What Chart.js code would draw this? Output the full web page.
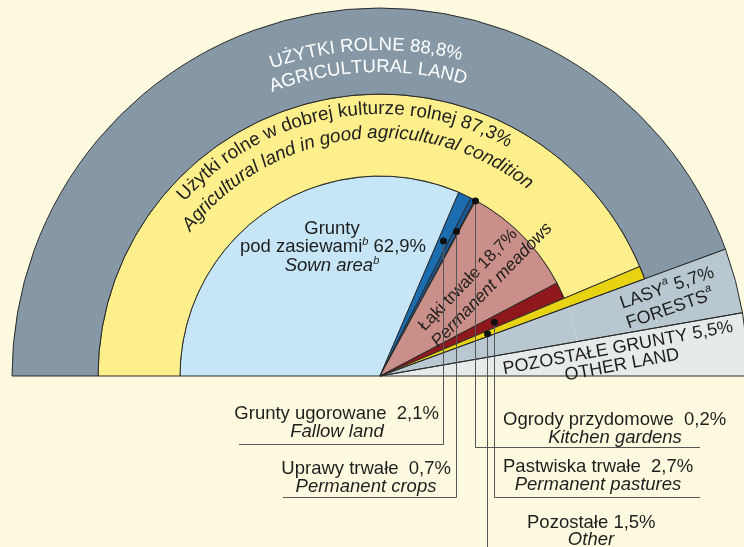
<!DOCTYPE html>
<html>
<head>
<meta charset="utf-8">
<script src="https://cdn.jsdelivr.net/npm/chart.js@4.4.1/dist/chart.umd.min.js"></script>
<style>
  html, body { margin: 0; padding: 0; background: #FEFAE0; }
  canvas { display: block; }
</style>
</head>
<body>
<canvas id="myChart" width="744" height="547"></canvas>
<script>
// udział w powierzchni ogólnej, %
const landLabels = ['Użytki rolne', 'Lasy', 'Pozostałe grunty'];
const landValues = [88.8, 5.7, 5.5];

const agriLabels = ['Użytki rolne w dobrej kulturze rolnej', 'Pozostałe'];
const agriValues = [87.3, 1.5];

const cropLabels = ['Grunty pod zasiewami', 'Grunty ugorowane', 'Uprawy trwałe',
                    'Ogrody przydomowe', 'Łąki trwałe', 'Pastwiska trwałe'];
const cropValues = [62.9, 2.1, 0.7, 0.2, 18.7, 2.7];

const SLATE = '#8697A6', FOREST = '#B9C8D0', OTHERLAND = '#E6EAEA';
const YELLOW = '#FCEF8C', STRIP = '#E8D312', BORDER = '#2b2b2b';
const cropColors = ['#C6E6F7', '#1C6DB0', '#165A99', '#222222', '#C98F88', '#8E181C'];

const FAM = '"Liberation Sans", Arial, sans-serif';
const TXT = '#1e1e1e';

const ctx = document.getElementById('myChart').getContext('2d');

function arcText(ctx, text, cx, cy, r, midDeg, font, color) {
    ctx.font = font;
    ctx.fillStyle = color;
    ctx.textAlign = 'center';
    ctx.textBaseline = 'alphabetic';
    const w = ctx.measureText(text).width;
    let a = midDeg * Math.PI / 180 + w / (2 * r);
    for (const ch of text) {
        const cw = ctx.measureText(ch).width;
        const t = a - cw / (2 * r);
        ctx.save();
        ctx.translate(cx + r * Math.cos(t), cy - r * Math.sin(t));
        ctx.rotate(Math.PI / 2 - t);
        ctx.fillText(ch, 0, 0);
        ctx.restore();
        a -= cw / r;
    }
}

// parts: [['tekst'], ['a', true]] - drugi element = indeks górny
function drawParts(ctx, parts, x, y, align, italic, size) {
    const f = (italic ? 'italic ' : '') + (size || 18.5) + 'px ' + FAM;
    const sf = 'italic 11px ' + FAM;
    let w = 0;
    parts.forEach(p => { ctx.font = p[1] ? sf : f; w += ctx.measureText(p[0]).width; });
    let x0 = align === 'center' ? x - w / 2 : align === 'right' ? x - w : x;
    ctx.textAlign = 'left';
    parts.forEach(p => {
        ctx.font = p[1] ? sf : f;
        ctx.fillText(p[0], x0, p[1] ? y - 7 : y);
        x0 += ctx.measureText(p[0]).width;
    });
}

function rotated(ctx, x, y, deg, fn) {
    ctx.save();
    ctx.translate(x, y);
    ctx.rotate(-deg * Math.PI / 180);
    fn();
    ctx.restore();
}

function wedge(ctx, el, r) {
    ctx.beginPath();
    ctx.moveTo(el.x, el.y);
    ctx.arc(el.x, el.y, r, el.startAngle, el.endAngle);
    ctx.closePath();
    ctx.stroke();
}

function pointOn(el, r) {
    const a = (el.startAngle + el.endAngle) / 2;
    return [el.x + r * Math.cos(a), el.y + r * Math.sin(a)];
}

const overlay = {
    id: 'overlay',
    afterDatasetsDraw(chart) {
        const c = chart.ctx;
        const outer = chart.getDatasetMeta(0).data;
        const middle = chart.getDatasetMeta(1).data;
        const inner = chart.getDatasetMeta(2).data;
        const cx = outer[0].x, cy = outer[0].y;

        c.save();
        c.strokeStyle = BORDER;
        c.lineWidth = 1;
        wedge(c, middle[1], middle[1].outerRadius);
        wedge(c, outer[1], outer[1].outerRadius);
        wedge(c, outer[2], outer[2].outerRadius);

        // napisy na łukach
        arcText(c, 'UŻYTKI ROLNE 88,8%', cx, cy, 326, 92.5, '18.5px ' + FAM, '#ffffff');
        arcText(c, 'AGRICULTURAL LAND', cx, cy, 304, 92.4, '18.5px ' + FAM, '#ffffff');
        arcText(c, 'Użytki rolne w dobrej kulturze rolnej 87,3%', cx, cy, 262, 99.5, '18.8px ' + FAM, TXT);
        arcText(c, 'Agricultural land in good agricultural condition', cx, cy, 238, 97.2, 'italic 18.8px ' + FAM, TXT);

        c.fillStyle = TXT;
        c.textBaseline = 'alphabetic';
        drawParts(c, [['Grunty']], 332, 234, 'center');
        drawParts(c, [['pod zasiewami'], ['b', true], [' 62,9%']], 333, 252, 'center');
        drawParts(c, [['Sown area', false], ['b', true]], 332, 271, 'center', true);

        c.textBaseline = 'middle';
        rotated(c, 468, 280, 46, () => drawParts(c, [['Łąki trwałe 18,7%']], 0, 0, 'center', false, 17));
        rotated(c, 492, 285, 46, () => drawParts(c, [['Permanent meadows']], 0, 0, 'center', true, 17.5));
        rotated(c, 667, 288, 19, () => drawParts(c, [['LASY'], ['a', true], [' 5,7%']], 0, 0, 'center', false, 18));
        rotated(c, 670, 309, 19, () => drawParts(c, [['FORESTS'], ['a', true]], 0, 0, 'center', false, 18));
        rotated(c, 618, 348, 10.5, () => drawParts(c, [['POZOSTAŁE GRUNTY 5,5%']], 0, 0, 'center', false, 18));
        rotated(c, 622, 365, 10.5, () => drawParts(c, [['OTHER LAND']], 0, 0, 'center', false, 18));

        // linie odniesienia
        const leaders = [
            [inner[1], 149, 444, 239],
            [inner[2], 163, 497, 283],
            [inner[3], 199, 447, 700],
            [inner[5], 126, 497, 700],
            [middle[1], 115, 547, null]
        ];
        c.strokeStyle = '#555555';
        c.lineWidth = 1;
        leaders.forEach(([el, r, yEnd, xEnd]) => {
            const [px, py] = pointOn(el, r);
            const x = Math.round(px) + 0.5;
            c.beginPath();
            c.moveTo(x, py);
            c.lineTo(x, yEnd + 0.5);
            if (xEnd !== null) c.lineTo(xEnd, yEnd + 0.5);
            c.stroke();
        });
        c.fillStyle = '#111111';
        leaders.forEach(([el, r]) => {
            const [px, py] = pointOn(el, r);
            c.beginPath();
            c.arc(Math.round(px) + 0.5, py, 3.5, 0, Math.PI * 2);
            c.fill();
        });

        c.fillStyle = TXT;
        c.textBaseline = 'alphabetic';
        drawParts(c, [['Grunty ugorowane  2,1%']], 439, 419, 'right');
        drawParts(c, [['Fallow land']], 337, 437, 'center', true);
        drawParts(c, [['Uprawy trwałe  0,7%']], 451, 474, 'right');
        drawParts(c, [['Permanent crops']], 366, 492, 'center', true);
        drawParts(c, [['Ogrody przydomowe  0,2%']], 503, 425, 'left');
        drawParts(c, [['Kitchen gardens']], 615, 443, 'center', true);
        drawParts(c, [['Pastwiska trwałe  2,7%']], 503, 472, 'left');
        drawParts(c, [['Permanent pastures']], 598, 490, 'center', true);
        drawParts(c, [['Pozostałe 1,5%']], 527, 528, 'left');
        drawParts(c, [['Other']], 591, 545, 'center', true);
        c.restore();
    }
};

const myChart = new Chart(ctx, {
    type: 'pie',
    data: {
        labels: [...cropLabels, agriLabels[1], landLabels[1], landLabels[2]],
        datasets: [{
            label: 'Powierzchnia ogólna',
            data: landValues,
            backgroundColor: [SLATE, FOREST, OTHERLAND],
            borderWidth: [1, 0, 0],
            weight: 86
        }, {
            label: 'Użytki rolne',
            data: [...agriValues, landValues[1], landValues[2]],
            backgroundColor: [YELLOW, STRIP, FOREST, OTHERLAND],
            borderWidth: [1, 0, 0, 0],
            weight: 82
        }, {
            label: 'Struktura użytków',
            data: [...cropValues, agriValues[1], landValues[1], landValues[2]],
            backgroundColor: [...cropColors, STRIP, FOREST, OTHERLAND],
            borderWidth: [1, 1, 1, 0, 1, 1, 0, 0, 0],
            weight: 200
        }]
    },
    options: {
        responsive: false,
        animation: false,
        events: [],
        rotation: -90,
        circumference: 180,
        radius: 368,
        borderColor: BORDER,
        clip: false,
        layout: { padding: { left: 16, right: 0, top: 8, bottom: 171 } },
        plugins: {
            legend: { display: false },
            tooltip: { enabled: false }
        }
    },
    plugins: [overlay]
});
</script>
</body>
</html>
